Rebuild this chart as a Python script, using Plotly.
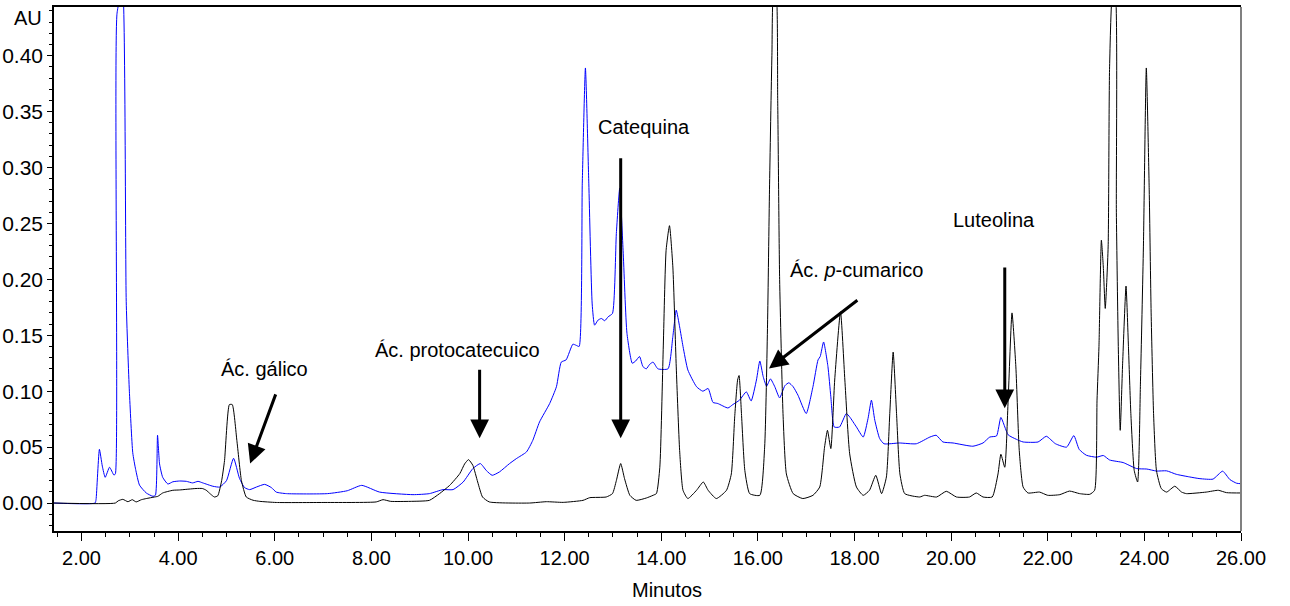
import plotly.graph_objects as go

# ---- data (minutes, AU) ----
t_blue = [1.43, 2.28, 2.30, 2.37, 2.43, 2.49, 2.58, 2.67, 2.70, 2.735, 2.85, 2.925, 2.99, 3.06, 3.12,
          3.20, 3.34, 3.48, 3.53, 3.573, 3.615, 3.68, 3.787, 3.89, 4.03, 4.17, 4.30, 4.41, 4.51, 4.72,
          4.86, 5.00, 5.147, 5.27, 5.375, 5.48, 5.62, 5.79, 5.93, 6.03, 6.24, 7.09, 7.50, 7.80, 8.17,
          8.86, 9.20, 9.48, 9.69, 9.90, 10.10, 10.255, 10.38, 10.50, 10.65, 10.86, 11.00, 11.21, 11.34,
          11.48, 11.69, 11.83, 11.93, 12.03, 12.17, 12.24, 12.30, 12.365, 12.43, 12.50, 12.57, 12.62,
          12.69, 12.76, 12.83, 12.90, 12.99, 13.07, 13.14, 13.21, 13.29, 13.40, 13.47, 13.55, 13.62,
          13.69, 13.76, 13.83, 13.93, 14.14, 14.24, 14.31, 14.38, 14.45, 14.55, 14.73, 14.86, 14.97,
          15.07, 15.17, 15.38, 15.48, 15.62, 15.76, 15.86, 15.97, 16.04, 16.11, 16.18, 16.26, 16.35,
          16.45, 16.56, 16.64, 16.73, 16.83, 17.00, 17.14, 17.245, 17.29, 17.36, 17.45, 17.51, 17.58,
          17.69, 17.83, 17.90, 18.04, 18.18, 18.28, 18.35, 18.42, 18.52, 18.61, 18.93, 19.28, 19.56,
          19.69, 19.83, 20.04, 20.45, 20.66, 20.80, 20.94, 21.03, 21.18, 21.35, 21.49, 21.80, 21.97,
          22.16, 22.39, 22.54, 22.65, 22.80, 23.01, 23.15, 23.28, 23.56, 23.84, 24.05, 24.25, 24.46,
          24.66, 24.94, 25.15, 25.42, 25.62, 25.77, 25.91, 26.04]
au_blue = [0.0, 0.0, 0.003, 0.048, 0.033, 0.023, 0.032, 0.025, 0.026, 0.438, 0.46, 0.18, 0.10, 0.045, 0.030,
           0.016, 0.009, 0.006, 0.007, 0.0606, 0.035, 0.023, 0.017, 0.019, 0.0197, 0.0194, 0.018, 0.0194, 0.018, 0.015,
           0.0143, 0.020, 0.040, 0.022, 0.0138, 0.012, 0.0143, 0.0167, 0.0138, 0.0098, 0.0084, 0.0084, 0.011, 0.0158, 0.0098,
           0.0075, 0.0084, 0.012, 0.012, 0.0188, 0.0308, 0.0353, 0.029, 0.0248, 0.0278, 0.0353, 0.0397, 0.0457, 0.056,
           0.0725, 0.089, 0.104, 0.126, 0.128, 0.142, 0.141, 0.140, 0.286, 0.389, 0.286, 0.178, 0.159,
           0.1635, 0.165, 0.163, 0.1665, 0.1695, 0.241, 0.2815, 0.226, 0.1517, 0.125, 0.127, 0.131, 0.122,
           0.120, 0.124, 0.126, 0.120, 0.120, 0.149, 0.1725, 0.1575, 0.140, 0.119, 0.104, 0.100, 0.1024,
           0.090, 0.089, 0.085, 0.088, 0.092, 0.0994, 0.0913, 0.110, 0.127, 0.113, 0.1045, 0.111, 0.104,
           0.094, 0.105, 0.1075, 0.104, 0.0964, 0.080, 0.104, 0.128, 0.131, 0.144, 0.122, 0.095, 0.068,
           0.068, 0.080, 0.077, 0.068, 0.059, 0.0756, 0.092, 0.074, 0.0577, 0.053, 0.0537, 0.053, 0.059,
           0.0606, 0.0546, 0.0537, 0.0508, 0.0537, 0.059, 0.060, 0.0765, 0.061, 0.057, 0.0546, 0.0546, 0.0597,
           0.053, 0.050, 0.0603, 0.048, 0.0427, 0.041, 0.0425, 0.0385, 0.0362, 0.0308, 0.0304, 0.0286, 0.0288,
           0.0257, 0.0233, 0.0218, 0.0214, 0.0285, 0.021, 0.0177, 0.0172]

t_black = [1.43, 2.70, 2.76, 2.855, 2.96, 3.05, 3.13, 3.24, 3.34, 3.51, 3.58, 3.68, 3.89, 4.03, 4.37,
           4.50, 4.58, 4.67, 4.75, 4.82, 4.90, 4.96, 5.06, 5.12, 5.215, 5.31, 5.41, 5.55, 5.69, 6.03,
           7.00, 8.10, 8.24, 8.40, 8.80, 9.20, 9.41, 9.62, 9.83, 9.93, 10.01, 10.10, 10.20, 10.30, 10.44,
           11.27, 11.62, 11.97, 12.38, 12.52, 12.86, 12.99, 13.07, 13.16, 13.24, 13.35, 13.48, 13.69, 13.83,
           13.90, 13.97, 14.04, 14.10, 14.17, 14.24, 14.31, 14.38, 14.45, 14.55, 14.73, 14.87, 14.97, 15.14,
           15.35, 15.45, 15.52, 15.58, 15.61, 15.66, 15.73, 15.83, 16.04, 16.14, 16.20, 16.24, 16.29, 16.33,
           16.37, 16.41, 16.45, 16.52, 16.59, 16.73, 16.93, 17.14, 17.28, 17.38, 17.44, 17.51, 17.59, 17.71,
           17.80, 17.90, 18.04, 18.18, 18.31, 18.44, 18.56, 18.66, 18.73, 18.80, 18.87, 18.94, 19.04, 19.35,
           19.45, 19.70, 19.90, 20.11, 20.38, 20.52, 20.66, 20.85, 20.97, 21.03, 21.11, 21.18, 21.26, 21.34,
           21.41, 21.49, 21.59, 21.83, 22.00, 22.25, 22.45, 22.66, 22.87, 22.97, 23.02, 23.06, 23.11, 23.15,
           23.19, 23.25, 23.28, 23.35, 23.39, 23.42, 23.46, 23.50, 23.55, 23.62, 23.67, 23.72, 23.79, 23.86,
           23.92, 23.98, 24.04, 24.10, 24.14, 24.19, 24.25, 24.35, 24.46, 24.63, 24.77, 24.87, 25.28, 25.53,
           25.70, 26.04]
au_black = [0.0, 0.0, 0.002, 0.0033, 0.0012, 0.003, 0.001, 0.003, 0.004, 0.0054, 0.006, 0.009, 0.0114, 0.0117, 0.013,
            0.013, 0.0115, 0.008, 0.0054, 0.0065, 0.020, 0.038, 0.088, 0.088, 0.056, 0.020, 0.0054, 0.0025, 0.0015, 0.0005,
            0.0005, 0.001, 0.003, 0.0015, 0.0015, 0.0024, 0.0084, 0.0158, 0.0263, 0.035, 0.0388, 0.0337, 0.0188, 0.0054, 0.001,
            0.0, 0.0012, 0.0006, 0.0024, 0.0048, 0.0054, 0.0084, 0.020, 0.0353, 0.0218, 0.0069, 0.0024, 0.0045, 0.0069,
            0.0085, 0.032, 0.137, 0.226, 0.248, 0.211, 0.1217, 0.047, 0.0114, 0.004, 0.0114, 0.0188, 0.0114, 0.004,
            0.0114, 0.026, 0.077, 0.110, 0.114, 0.080, 0.029, 0.0084, 0.0069, 0.050, 0.16, 0.28, 0.40, 0.46,
            0.46, 0.36, 0.20, 0.080, 0.026, 0.0084, 0.004, 0.0069, 0.0143, 0.050, 0.065, 0.0487, 0.110, 0.171,
            0.110, 0.044, 0.0143, 0.0069, 0.0114, 0.0248, 0.0084, 0.0233, 0.080, 0.135, 0.080, 0.026, 0.0084, 0.0054,
            0.0069, 0.0054, 0.0105, 0.0054, 0.0054, 0.009, 0.0054, 0.0054, 0.026, 0.0436, 0.032, 0.092, 0.170, 0.1217,
            0.047, 0.0143, 0.009, 0.0098, 0.0069, 0.0075, 0.0107, 0.0084, 0.0078, 0.0114, 0.092, 0.14, 0.235, 0.211,
            0.174, 0.229, 0.39, 0.46, 0.46, 0.26, 0.14, 0.065, 0.125, 0.194, 0.14, 0.080, 0.029, 0.0188,
            0.11, 0.229, 0.389, 0.28, 0.17, 0.08, 0.029, 0.0129, 0.0098, 0.015, 0.0098, 0.0084, 0.0098, 0.0114,
            0.0093, 0.009]

x_tick_vals = [2, 4, 6, 8, 10, 12, 14, 16, 18, 20, 22, 24, 26]
x_tick_text = ["2.00", "4.00", "6.00", "8.00", "10.00", "12.00", "14.00", "16.00", "18.00",
               "20.00", "22.00", "24.00", "26.00"]
y_tick_vals = [0.0, 0.05, 0.10, 0.15, 0.20, 0.25, 0.30, 0.35, 0.40]
y_tick_text = ["0.00", "0.05", "0.10", "0.15", "0.20", "0.25", "0.30", "0.35", "0.40"]

# compound labels: (text, label x, label y, arrow tip x, tip y, tail x, tail y)
labels = [
    ("Ác. gálico", 5.79, 0.120, 5.49, 0.0353, 6.03, 0.0985),
    ("Ác. protocatecuico", 9.78, 0.1365, 10.24, 0.058, 10.24, 0.1206),
    ("Catequina", 13.64, 0.336, 13.16, 0.058, 13.16, 0.3095),
    ("Ác. <i>p</i>-cumarico", 18.05, 0.208, 16.23, 0.1203, 18.09, 0.1824),
    ("Luteolina", 20.88, 0.2532, 21.11, 0.0848, 21.11, 0.2119),
]

FONT = "Liberation Sans, Arial, sans-serif"

fig = go.Figure()
fig.add_trace(go.Scatter(x=t_blue, y=au_blue, mode="lines",
                         line=dict(color="#0000FF", width=1, shape="spline", smoothing=0.5),
                         showlegend=False, hoverinfo="skip"))
fig.add_trace(go.Scatter(x=t_black, y=au_black, mode="lines",
                         line=dict(color="#000000", width=1, shape="spline", smoothing=0.5),
                         showlegend=False, hoverinfo="skip"))

annotations = []
for text, lx, ly, tx, ty, ax, ay in labels:
    annotations.append(dict(x=lx, y=ly, xref="x", yref="y", text=text, showarrow=False,
                            font=dict(family=FONT, size=20, color="black"),
                            xanchor="center", yanchor="middle"))
    annotations.append(dict(x=tx, y=ty, xref="x", yref="y", ax=ax, ay=ay, axref="x", ayref="y",
                            text="", showarrow=True, arrowhead=2, arrowsize=1.25, arrowwidth=3,
                            arrowcolor="black", standoff=0))

annotations.append(dict(x=-0.035, y=1.0, xref="paper", yref="paper", text="AU", showarrow=False,
                        font=dict(family=FONT, size=20, color="black"),
                        xanchor="left", yanchor="top", yshift=2))
annotations.append(dict(x=14.11, y=-0.113, xref="x", yref="paper", text="Minutos", showarrow=False,
                        font=dict(family=FONT, size=20, color="black"),
                        xanchor="center", yanchor="middle"))

fig.update_layout(
    width=1290, height=606,
    margin=dict(l=54, r=49, t=7, b=75, autoexpand=False),
    paper_bgcolor="white", plot_bgcolor="white",
    font=dict(family=FONT, size=20, color="black"),
    annotations=annotations,
    xaxis=dict(range=[1.43, 26.0], showgrid=False, zeroline=False, automargin=False,
               showline=True, linecolor="black", linewidth=1.5, mirror=True,
               tickmode="array", tickvals=x_tick_vals, ticktext=x_tick_text,
               ticks="outside", ticklen=8, tickwidth=1, tickcolor="black",
               minor=dict(dtick=0.5, tick0=0, ticks="outside", ticklen=4, tickcolor="black", showgrid=False),
               tickfont=dict(family=FONT, size=20, color="black")),
    yaxis=dict(range=[-0.025, 0.4435], showgrid=False, zeroline=False, automargin=False,
               showline=True, linecolor="black", linewidth=1.5, mirror=False,
               tickmode="array", tickvals=y_tick_vals, ticktext=y_tick_text,
               ticks="outside", ticklen=5, tickwidth=1, tickcolor="black",
               minor=dict(dtick=0.01, tick0=0, ticks="outside", ticklen=3, tickcolor="black", showgrid=False),
               tickfont=dict(family=FONT, size=21, color="black")),
    shapes=[dict(type="line", xref="paper", yref="paper", x0=1, x1=1, y0=0, y1=1,
                 line=dict(color="#808080", width=2))],
)

fig.write_html("out.html")
